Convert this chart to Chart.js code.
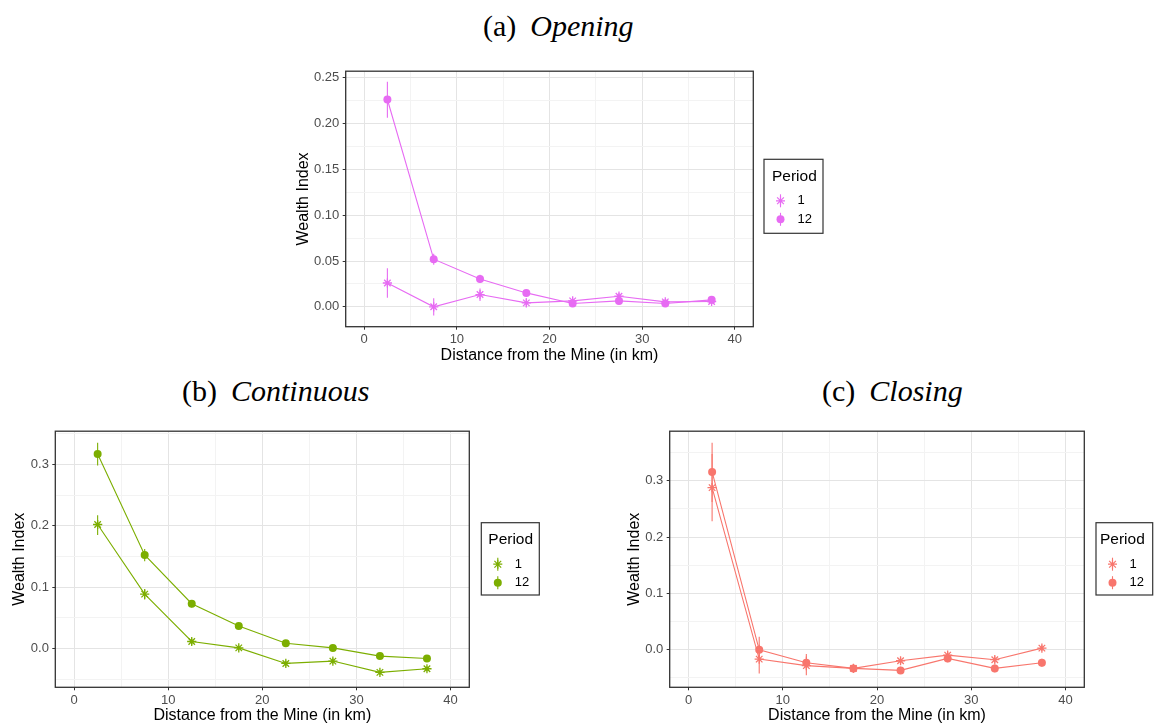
<!DOCTYPE html>
<html>
<head>
<meta charset="utf-8">
<script src="https://cdn.jsdelivr.net/npm/chart.js@4"></script>
<style>
  body { margin: 0; width: 1154px; height: 724px; overflow: hidden; background: #fff; position: relative; }
  canvas { position: absolute; }
  .ttl { position: absolute; font-family: "Liberation Serif", serif; font-size: 30px; color: #000; white-space: nowrap; line-height: 1; }
  .ttl i { margin-left: 14px; }
</style>
</head>
<body>
<div class="ttl" style="left:483px; top:11px;">(a)<i>Opening</i></div>
<div class="ttl" style="left:182px; top:376px;">(b)<i>Continuous</i></div>
<div class="ttl" style="left:822px; top:376px;">(c)<i>Closing</i></div>

<canvas id="opening" width="560" height="310" style="left:280px; top:60px;"></canvas>
<canvas id="continuous" width="560" height="310" style="left:0px; top:420px;"></canvas>
<canvas id="closing" width="554" height="310" style="left:600px; top:420px;"></canvas>

<script>
// distance bins (km)
const distance = [2.5, 7.5, 12.5, 17.5, 22.5, 27.5, 32.5, 37.5];
const periods = ["1", "12"];

// (a) Opening
const openP1 = [0.026, 0.000, 0.0134, 0.0043, 0.0065, 0.0116, 0.0054, 0.0058];
const openP1Lo = [0.010, -0.0094, 0.0065, 0.000, 0.003, 0.008, 0.002, 0.003];
const openP1Hi = [0.042, 0.0094, 0.020, 0.009, 0.010, 0.015, 0.008, 0.009];
const openP12 = [0.2264, 0.052, 0.0304, 0.0152, 0.0036, 0.0065, 0.0036, 0.0076];
const openP12Lo = [0.2065, 0.046, 0.026, 0.012, 0.001, 0.004, 0.001, 0.005];
const openP12Hi = [0.2457, 0.058, 0.035, 0.018, 0.006, 0.009, 0.006, 0.010];

// (b) Continuous
const contP1 = [0.202, 0.0886, 0.0114, 0.001, -0.0243, -0.0205, -0.0389, -0.033];
const contP1Lo = [0.185, 0.080, 0.006, -0.003, -0.029, -0.025, -0.043, -0.037];
const contP1Hi = [0.217, 0.097, 0.016, 0.005, -0.020, -0.016, -0.035, -0.029];
const contP12 = [0.3168, 0.1524, 0.073, 0.0368, 0.0086, 0.001, -0.0124, -0.0162];
const contP12Lo = [0.298, 0.142, 0.067, 0.033, 0.005, -0.002, -0.016, -0.020];
const contP12Hi = [0.335, 0.162, 0.079, 0.041, 0.012, 0.004, -0.009, -0.012];

// (c) Closing
const closeP1 = [0.2876, -0.0165, -0.028, -0.033, -0.0194, -0.0094, -0.0176, 0.003];
const closeP1Lo = [0.228, -0.042, -0.045, -0.040, -0.025, -0.014, -0.023, -0.002];
const closeP1Hi = [0.347, 0.009, -0.012, -0.026, -0.013, -0.004, -0.012, 0.008];
const closeP12 = [0.3153, 0.000, -0.023, -0.033, -0.0365, -0.0153, -0.033, -0.023];
const closeP12Lo = [0.262, -0.012, -0.033, -0.040, -0.043, -0.022, -0.040, -0.030];
const closeP12Hi = [0.367, 0.023, -0.0076, -0.026, -0.030, -0.008, -0.026, -0.016];

const xTitle = "Distance from the Mine (in km)";
const yTitle = "Wealth Index";
const legendTitle = "Period";

const pts = (ys) => distance.map((x, i) => ({ x: x, y: ys[i] }));

// vertical error bars from lo/hi arrays
const errorBars = {
  id: "errorBars",
  beforeDatasetsDraw(chart) {
    const ctx = chart.ctx, xs = chart.scales.x, ys = chart.scales.y;
    ctx.save();
    chart.data.datasets.forEach(ds => {
      ctx.strokeStyle = ds.borderColor;
      ctx.lineWidth = 1.1;
      ds.lo.forEach((lo, i) => {
        const px = xs.getPixelForValue(distance[i]);
        ctx.beginPath();
        ctx.moveTo(px, ys.getPixelForValue(lo));
        ctx.lineTo(px, ys.getPixelForValue(ds.hi[i]));
        ctx.stroke();
      });
    });
    ctx.restore();
  }
};

// panel border like theme_bw
const panelBorder = {
  id: "panelBorder",
  afterDraw(chart) {
    const a = chart.chartArea, ctx = chart.ctx;
    ctx.save();
    ctx.strokeStyle = "#333333";
    ctx.lineWidth = 1.3;
    ctx.strokeRect(a.left, a.top, a.right - a.left, a.bottom - a.top);
    ctx.restore();
  }
};

function drawMarker(ctx, style, x, y, r, color) {
  ctx.strokeStyle = color;
  ctx.fillStyle = color;
  if (style === "circle") {
    ctx.beginPath();
    ctx.arc(x, y, r, 0, Math.PI * 2);
    ctx.fill();
  } else {
    ctx.lineWidth = 1.2;
    ctx.beginPath();
    ctx.moveTo(x - r, y); ctx.lineTo(x + r, y);
    const d = r * 0.75;
    ctx.moveTo(x - d, y - d); ctx.lineTo(x + d, y + d);
    ctx.moveTo(x - d, y + d); ctx.lineTo(x + d, y - d);
    ctx.moveTo(x, y - r); ctx.lineTo(x, y + r);
    ctx.stroke();
  }
}

// ggplot-style legend box
const periodLegend = {
  id: "periodLegend",
  afterDraw(chart, args, opts) {
    const ctx = chart.ctx;
    const [bx, by, bw, bh] = opts.box;
    ctx.save();
    ctx.strokeStyle = "#333333";
    ctx.lineWidth = 1.2;
    ctx.strokeRect(bx, by, bw, bh);
    ctx.fillStyle = "#000";
    ctx.font = "15.5px 'Liberation Sans', Arial, sans-serif";
    ctx.textBaseline = "middle";
    ctx.textAlign = "left";
    ctx.fillText(legendTitle, bx + opts.titleX, by + 17);
    chart.data.datasets.forEach((ds, i) => {
      const ey = by + 41.5 + i * 18.5;
      const mx = bx + 16.5;
      ctx.strokeStyle = ds.borderColor;
      ctx.lineWidth = 1.1;
      ctx.beginPath();
      ctx.moveTo(mx, ey - 6.5);
      ctx.lineTo(mx, ey + 6.5);
      ctx.stroke();
      drawMarker(ctx, ds.pointStyle, mx, ey, ds.pointStyle === "circle" ? 4 : 4.5, ds.borderColor);
      ctx.fillStyle = "#000";
      ctx.font = "13px 'Liberation Sans', Arial, sans-serif";
      ctx.fillText(ds.label, bx + 33.5, ey);
    });
    ctx.restore();
  }
};

function makePanel(id, color, p1, p1Lo, p1Hi, p12, p12Lo, p12Hi, yMin, yMax, yStep, yDigits, geo) {
  const majorGrid = (ctx) => {
    const v = ctx.tick ? ctx.tick.value : 0;
    return Math.round(v / (ctx.scale.axis === "x" ? 5 : yStep)) % 2 === 0 ? "#e4e4e4" : "#f3f3f3";
  };
  const tickCol = (ctx) => {
    const v = ctx.tick ? ctx.tick.value : 0;
    return Math.round(v / (ctx.scale.axis === "x" ? 5 : yStep)) % 2 === 0 ? "#333333" : "rgba(0,0,0,0)";
  };
  const font = { family: "'Liberation Sans', Arial, sans-serif", size: 13 };
  const titleFont = { family: "'Liberation Sans', Arial, sans-serif", size: 16, lineHeight: 1.2 };
  new Chart(document.getElementById(id), {
    type: "scatter",
    data: {
      datasets: [
        { label: periods[0], data: pts(p1), lo: p1Lo, hi: p1Hi, showLine: true,
          borderColor: color, backgroundColor: color, borderWidth: 1.1,
          pointStyle: "star", pointRadius: 4.6, pointBorderWidth: 1.3, pointBackgroundColor: color },
        { label: periods[1], data: pts(p12), lo: p12Lo, hi: p12Hi, showLine: true,
          borderColor: color, backgroundColor: color, borderWidth: 1.1,
          pointStyle: "circle", pointRadius: 4, pointBorderWidth: 0, pointBackgroundColor: color }
      ]
    },
    options: {
      responsive: false,
      animation: false,
      devicePixelRatio: 1,
      layout: { padding: { left: 0, top: geo.top, right: geo.right, bottom: 0 } },
      plugins: {
        legend: { display: false },
        tooltip: { enabled: false },
        periodLegend: { box: geo.legend, titleX: geo.legendTitleX }
      },
      scales: {
        x: {
          type: "linear", min: -2, max: 42,
          afterFit: (s) => { s.height = geo.xh; },
          ticks: { stepSize: 5, includeBounds: false, color: "#4d4d4d", font: font, padding: 2,
                   maxRotation: 0, autoSkip: false,
                   callback: (v) => (Math.round(v / 5) % 2 === 0 ? String(v) : "") },
          grid: { color: majorGrid, lineWidth: 1, tickColor: tickCol, tickLength: 3 },
          border: { display: false },
          title: { display: true, text: xTitle, color: "#000", font: titleFont, padding: { top: 0, bottom: 4.4 } }
        },
        y: {
          type: "linear", min: yMin, max: yMax,
          afterFit: (s) => { s.width = geo.yw; },
          ticks: { stepSize: yStep, includeBounds: false, color: "#4d4d4d", font: font, padding: 3.4,
                   autoSkip: false,
                   callback: (v) => (Math.round(v / yStep) % 2 === 0 ? (Math.abs(v) < 1e-9 ? 0 : v).toFixed(yDigits) : "") },
          grid: { color: majorGrid, lineWidth: 1, tickColor: tickCol, tickLength: 3 },
          border: { display: false },
          title: { display: true, text: yTitle, color: "#000", font: titleFont, padding: { top: geo.ytp, bottom: 0 } }
        }
      }
    },
    plugins: [errorBars, panelBorder, periodLegend]
  });
}

makePanel("opening", "#E76BF3", openP1, openP1Lo, openP1Hi, openP12, openP12Lo, openP12Hi,
  -0.0217, 0.2573, 0.025, 2,
  { top: 9.3, right: 86.7, xh: 43.3, yw: 65.7, ytp: 13.7, legend: [484, 99.3, 59, 74], legendTitleX: 8 });

makePanel("continuous", "#7CAE00", contP1, contP1Lo, contP1Hi, contP12, contP12Lo, contP12Hi,
  -0.0632, 0.354, 0.05, 1,
  { top: 10, right: 90.7, xh: 42.7, yw: 55.3, ytp: 10.4, legend: [481.3, 102.7, 58, 72.3], legendTitleX: 7 });

makePanel("closing", "#F8766D", closeP1, closeP1Lo, closeP1Hi, closeP12, closeP12Lo, closeP12Hi,
  -0.0665, 0.3876, 0.05, 1,
  { top: 10, right: 69.7, xh: 42.7, yw: 69.7, ytp: 24.7, legend: [496, 102.7, 56.7, 72.3], legendTitleX: 4 });
</script>
</body>
</html>
